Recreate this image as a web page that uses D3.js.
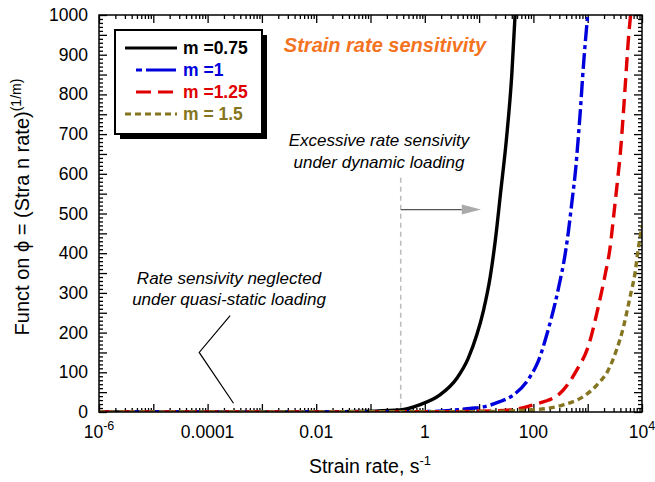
<!DOCTYPE html>
<html>
<head>
<meta charset="utf-8">
<script src="https://cdn.jsdelivr.net/npm/d3@7"></script>
<style>
  body { margin: 0; background: #fff; }
  text { font-family: "Liberation Sans", Arial, sans-serif; }
</style>
</head>
<body>
<svg id="chart" width="655" height="482"></svg>
<script>
// values (strain rate, function value)
const blackX = [1e-6, 0.01, 0.1, 0.35, 0.8, 1.9, 3.9, 6.3, 9.1, 12, 16, 20, 25, 32, 40, 46];
const blackY = [0, 0.3, 2, 5, 18, 43, 85, 135, 195, 255, 340, 435, 555, 690, 850, 1000];
const blueX = [1e-6, 0.1, 1, 3, 6.8, 12, 24, 43, 87, 123, 186, 251, 309, 355, 437, 513, 603, 661, 724, 832, 1000];
const blueY = [0, 0.2, 1, 4, 9, 13, 26, 43, 89, 128, 206, 274, 330, 370, 450, 530, 615, 680, 750, 870, 1000];
const redX = [1e-6, 1, 10, 37, 100, 309, 631, 1023, 1567, 2089, 2570, 3020, 3631, 3981, 4467, 5012, 5623, 6166];
const redY = [0, 0.5, 2, 5, 18, 47, 106, 165, 265, 345, 412, 496, 597, 650, 740, 840, 940, 1000];
const oliveX = [1e-6, 10, 60, 178, 355, 832, 1479, 2399, 3388, 4571, 6026, 7413, 8511, 10000];
const oliveY = [0, 1, 4, 9, 18, 39, 68, 106, 156, 215, 290, 349, 410, 470];

const seriesNames = ["m =0.75", "m =1", "m =1.25", "m = 1.5"];
const xTickVals = [1e-6, 1e-4, 1e-2, 1, 100, 1e4];
const xTickLabels = [["10", "-6"], ["0.0001"], ["0.01"], ["1"], ["100"], ["10", "4"]];
const yTicks = d3.range(0, 1001, 100);

const svg = d3.select('#chart');
const margin = { top: 15, bottom: 70, left: 99, right: 13 };
const width = 655, height = 482;

const x = d3.scaleLog().domain([1e-6, 1e4]).range([margin.left, width - margin.right]);
const y = d3.scaleLinear().domain([0, 1000]).range([height - margin.bottom, margin.top]);

const series = [
  { name: seriesNames[0], xs: blackX, ys: blackY, color: '#000000', dash: null },
  { name: seriesNames[1], xs: blueX, ys: blueY, color: '#0000dd', dash: '16,4,4,4' },
  { name: seriesNames[2], xs: redX, ys: redY, color: '#e00000', dash: '14,7' },
  { name: seriesNames[3], xs: oliveX, ys: oliveY, color: '#857520', dash: '6,4' }
];

svg.append('clipPath').attr('id', 'plotclip')
  .append('rect')
  .attr('x', x.range()[0]).attr('y', y.range()[1])
  .attr('width', x.range()[1] - x.range()[0]).attr('height', y.range()[0] - y.range()[1]);

// ticks: all four sides, pointing inward
const decades = d3.range(-6, 5).map(e => Math.pow(10, e));
const minorX = [];
decades.slice(0, -1).forEach(d => { for (let k = 2; k <= 9; k++) minorX.push(d * k); });
const yMajor = d3.range(0, 1001, 50);
const yMinor = d3.range(0, 1001, 10).filter(v => v % 50 !== 0);

const x0 = x.range()[0], x1 = x.range()[1], y0 = y.range()[0], y1 = y.range()[1];

svg.append('g').attr('transform', `translate(0,${y0})`)
  .call(d3.axisBottom(x).tickValues(decades).tickSize(-8).tickFormat(''))
  .call(g => g.select('.domain').remove());
svg.append('g').attr('transform', `translate(0,${y0})`)
  .call(d3.axisBottom(x).tickValues(minorX).tickSize(-4).tickFormat(''))
  .call(g => g.select('.domain').remove());
svg.append('g').attr('transform', `translate(0,${y1})`)
  .call(d3.axisTop(x).tickValues(decades).tickSize(-8).tickFormat(''))
  .call(g => g.select('.domain').remove());
svg.append('g').attr('transform', `translate(0,${y1})`)
  .call(d3.axisTop(x).tickValues(minorX).tickSize(-4).tickFormat(''))
  .call(g => g.select('.domain').remove());

svg.append('g').attr('transform', `translate(${x0},0)`)
  .call(d3.axisLeft(y).tickValues(yMajor).tickSize(-8).tickFormat(''))
  .call(g => g.select('.domain').remove());
svg.append('g').attr('transform', `translate(${x0},0)`)
  .call(d3.axisLeft(y).tickValues(yMinor).tickSize(-4).tickFormat(''))
  .call(g => g.select('.domain').remove());
svg.append('g').attr('transform', `translate(${x1},0)`)
  .call(d3.axisRight(y).tickValues(yMajor).tickSize(-8).tickFormat(''))
  .call(g => g.select('.domain').remove());
svg.append('g').attr('transform', `translate(${x1},0)`)
  .call(d3.axisRight(y).tickValues(yMinor).tickSize(-4).tickFormat(''))
  .call(g => g.select('.domain').remove());

svg.selectAll('.tick line').attr('stroke', '#000').attr('stroke-width', 1.3);

// tick labels
svg.append('g').selectAll('text')
  .data(yTicks).join('text')
  .attr('x', x0 - 11).attr('y', d => y(d) + 6)
  .attr('text-anchor', 'end').attr('font-size', 17.5)
  .text(d => d);

const xl = svg.append('g').selectAll('text')
  .data(xTickVals).join('text')
  .attr('x', d => x(d)).attr('y', y0 + 26)
  .attr('text-anchor', 'middle').attr('font-size', 17.5);
xl.each(function(d, i) {
  const t = d3.select(this);
  const parts = xTickLabels[i];
  t.append('tspan').text(parts[0]);
  if (parts[1]) t.append('tspan').attr('dy', -8).attr('font-size', 12.5).text(parts[1]);
});

// curves
const line = d3.line().x(d => x(d[0])).y(d => y(d[1])).curve(d3.curveMonotoneX);
const plot = svg.append('g').attr('clip-path', 'url(#plotclip)');
series.forEach(s => {
  plot.append('path')
    .datum(s.xs.map((v, i) => [v, s.ys[i]]))
    .attr('fill', 'none')
    .attr('stroke', s.color)
    .attr('stroke-width', 3.4)
    .attr('stroke-dasharray', s.dash)
    .attr('d', line);
});

// frame
svg.append('rect')
  .attr('x', x0).attr('y', y1).attr('width', x1 - x0).attr('height', y0 - y1)
  .attr('fill', 'none').attr('stroke', '#000').attr('stroke-width', 1.5);

// axis titles
const xt = svg.append('text').attr('x', 370).attr('y', 473)
  .attr('text-anchor', 'middle').attr('font-size', 19.5);
xt.append('tspan').text('Strain rate, s');
xt.append('tspan').attr('dy', -8).attr('font-size', 13).text('-1');

const yt = svg.append('text').attr('transform', 'translate(29,207) rotate(-90)')
  .attr('text-anchor', 'middle').attr('font-size', 20);
yt.append('tspan').text('Funct on \u03D5 = (Stra n rate)');
yt.append('tspan').attr('dy', -8).attr('font-size', 14).text('(1/m)');

// title
svg.append('text').attr('x', 385).attr('y', 52).attr('text-anchor', 'middle')
  .attr('font-size', 20).attr('font-weight', 'bold').attr('font-style', 'italic')
  .attr('fill', '#f4731f').text('Strain rate sensitivity');

// annotations
const dynX = 0.36;
svg.append('line')
  .attr('x1', x(dynX)).attr('x2', x(dynX)).attr('y1', y(590)).attr('y2', y0)
  .attr('stroke', '#bbb').attr('stroke-width', 1.5).attr('stroke-dasharray', '5,4');
svg.append('line')
  .attr('x1', x(dynX)).attr('x2', x(4.8)).attr('y1', y(510)).attr('y2', y(510))
  .attr('stroke', '#555').attr('stroke-width', 1.3);
svg.append('path')
  .attr('d', `M${x(4.8)},${y(510) - 5}L${x(10.8)},${y(510)}L${x(4.8)},${y(510) + 5}Z`)
  .attr('fill', '#aaa');

const ann = svg.append('g').attr('font-size', 17).attr('font-style', 'italic').attr('text-anchor', 'middle');
ann.append('text').attr('x', 379).attr('y', 146).text('Excessive rate sensivity');
ann.append('text').attr('x', 379).attr('y', 168).text('under dynamic loading');
ann.append('text').attr('x', 229).attr('y', 284).text('Rate sensivity neglected');
ann.append('text').attr('x', 229).attr('y', 305).text('under quasi-static loading');

svg.append('path')
  .attr('d', `M${x(2.6e-4)},${y(243)}L${x(7e-5)},${y(150)}L${x(3e-4)},${y(22)}`)
  .attr('fill', 'none').attr('stroke', '#000').attr('stroke-width', 1.2);

// legend
const lg = svg.append('g').attr('transform', 'translate(115,30)');
lg.append('rect').attr('x', 5).attr('y', 5).attr('width', 147).attr('height', 104).attr('fill', '#000');
lg.append('rect').attr('x', 0).attr('y', 0).attr('width', 147).attr('height', 104)
  .attr('fill', '#fff').attr('stroke', '#000').attr('stroke-width', 2);
const legX1 = [10, 21, 21, 10];
const legDash = [null, '6,4,30', '15,7', '6,4'];
series.forEach((s, i) => {
  const ry = 18 + i * 22;
  lg.append('line').attr('x1', legX1[i]).attr('x2', 62).attr('y1', ry).attr('y2', ry)
    .attr('stroke', s.color).attr('stroke-width', 3.2).attr('stroke-dasharray', legDash[i]);
  lg.append('text').attr('x', 68).attr('y', ry + 6).attr('font-size', 17.5).attr('font-weight', 'bold')
    .attr('fill', s.color).text(s.name);
});
</script>
</body>
</html>
